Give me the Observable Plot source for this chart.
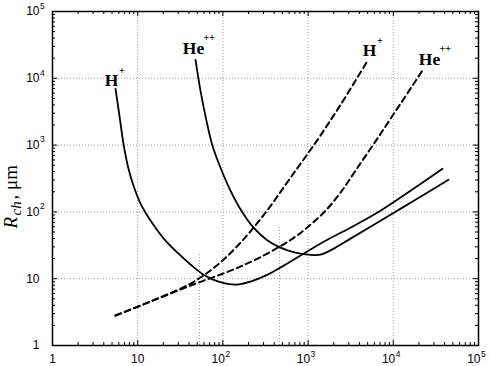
<!DOCTYPE html>
<html><head><meta charset="utf-8">
<script src="https://cdn.jsdelivr.net/npm/d3@7"></script>
<script src="https://cdn.jsdelivr.net/npm/@observablehq/plot@0.6"></script>
<style>body{margin:0;background:#fff}#chart svg{display:block}</style>
</head><body><div id="chart"></div>
<script>
// H+ solid curve (R_ch)
const hSolidX = [5.49, 6.11, 6.81, 7.80, 8.93, 10.8, 13.0, 16.2, 21.2, 29.3, 41.7, 59.2, 88.8, 144, 211, 316, 474, 883, 1600, 3146, 7076, 15920, 37800];
const hSolidY = [6945, 2742, 1046, 442, 246, 133, 87.7, 58.0, 37.1, 24.5, 16.3, 11.5, 9.05, 8.16, 9.05, 11.1, 14.7, 23.7, 37.1, 58.0, 104, 207, 442];
// He++ solid curve
const heSolidX = [47.7, 54.6, 64.2, 75.5, 93.7, 123, 165, 229, 325, 474, 711, 1011, 1398, 2097, 3146, 7076, 18220, 44450];
const heSolidY = [18840, 6481, 2308, 976, 458, 207, 104, 58.0, 38.4, 29.2, 24.5, 22.9, 22.9, 29.2, 39.8, 73.9, 152, 303];
// H+ dashed curve
const hDashX = [5.49, 14.1, 41.7, 81.9, 161, 316, 621, 1289, 2400, 4980];
const hDashY = [2.81, 4.55, 8.45, 15.2, 34.6, 97.3, 324, 1200, 4003, 18200];
// He++ dashed curve
const heDashX = [5.49, 14.1, 41.7, 123, 241, 462, 711, 1067, 1600, 2400, 3600, 5700, 9271, 22620];
const heDashY = [2.81, 4.55, 7.89, 13.2, 19.3, 30.2, 42.6, 64.4, 104, 194, 413, 976, 2473, 13820];
// vertical dotted markers
const markerX = [53.1, 462];
const markerTop = [23.7, 62];
// curve labels
const labelBase = ["H", "He", "H", "He"];
const labelSup = ["+", "++", "+", "++"];
const labelX = [4.93, 45.2, 5257, 26600];
const labelY = [7700, 23170, 21620, 15860];
// axis ticks
const majorTicks = [1, 10, 100, 1000, 10000, 100000];
const gridTicks = [10, 100, 1000, 10000];
const tickBase = ["1", "10", "10", "10", "10", "10"];
const tickExp = ["", "", "2", "3", "4", "5"];

const toRows = (X, Y) => X.map((x, i) => ({x, y: Y[i]}));
const minorTicks = [];
for (let k = 0; k < 5; k++) for (let m = 2; m <= 9; m++) minorTicks.push(m * 10 ** k);
const ticks = majorTicks.map((v, i) => ({v, base: tickBase[i], exp: tickExp[i]}));
const plainTicks = ticks.filter(d => !d.exp);
const expTicks = ticks.filter(d => d.exp);
const labels = labelBase.map((b, i) => ({b, s: labelSup[i], x: labelX[i], y: labelY[i]}));
const markers = markerX.map((x, i) => ({x, top: markerTop[i]}));

const gridStyle = {stroke: "#9a9a9a", strokeWidth: 1, strokeDasharray: "1,2"};
const tickFont = "Liberation Sans, Arial, sans-serif";
const serif = "Liberation Serif, Times New Roman, serif";
const labFont = {fontFamily: serif, fontWeight: "bold", fill: "black", lineAnchor: "bottom"};
const tf = {fontFamily: tickFont, fill: "black"};

const chart = Plot.plot({
  width: 490, height: 366,
  marginLeft: 52, marginRight: 12, marginTop: 11, marginBottom: 21,
  x: {type: "log", domain: [1, 1e5], axis: null},
  y: {type: "log", domain: [1, 1e5], axis: null},
  style: {background: "white"},
  marks: [
    Plot.ruleX(gridTicks, gridStyle),
    Plot.ruleY(gridTicks, gridStyle),
    Plot.ruleX(markers, {x: "x", y1: 1, y2: "top", ...gridStyle}),
    // inward ticks
    Plot.ruleX(majorTicks, {y1: 1, y2: 1, insetBottom: 5, stroke: "black"}),
    Plot.ruleX(minorTicks, {y1: 1, y2: 1, insetBottom: 3, stroke: "black"}),
    Plot.ruleX(majorTicks, {y1: 1e5, y2: 1e5, insetTop: 5, stroke: "black"}),
    Plot.ruleX(minorTicks, {y1: 1e5, y2: 1e5, insetTop: 3, stroke: "black"}),
    Plot.ruleY(majorTicks, {x1: 1, x2: 1, insetRight: -5, stroke: "black"}),
    Plot.ruleY(minorTicks, {x1: 1, x2: 1, insetRight: -3, stroke: "black"}),
    Plot.ruleY(majorTicks, {x1: 1e5, x2: 1e5, insetLeft: -5, stroke: "black"}),
    Plot.ruleY(minorTicks, {x1: 1e5, x2: 1e5, insetLeft: -3, stroke: "black"}),
    // curves
    Plot.line(toRows(hSolidX, hSolidY), {x: "x", y: "y", stroke: "black", strokeWidth: 1.8, curve: "catmull-rom"}),
    Plot.line(toRows(heSolidX, heSolidY), {x: "x", y: "y", stroke: "black", strokeWidth: 1.8, curve: "catmull-rom"}),
    Plot.line(toRows(hDashX, hDashY), {x: "x", y: "y", stroke: "black", strokeWidth: 2, strokeDasharray: "6,4", curve: "catmull-rom"}),
    Plot.line(toRows(heDashX, heDashY), {x: "x", y: "y", stroke: "black", strokeWidth: 2, strokeDasharray: "6,4", curve: "catmull-rom"}),
    Plot.frame({stroke: "black", strokeWidth: 1.5}),
    // curve labels
    Plot.text(labels, {x: "x", y: "y", text: "b", textAnchor: "middle", fontSize: 17.5, ...labFont}),
    Plot.text(labels.filter(d => d.b === "H"), {x: "x", y: "y", text: "s", textAnchor: "start", dx: 7.5, dy: -12, fontSize: 10, ...labFont}),
    Plot.text(labels.filter(d => d.b === "He"), {x: "x", y: "y", text: "s", textAnchor: "start", dx: 10, dy: -13, fontSize: 10, ...labFont}),
    // x tick labels
    Plot.text(plainTicks, {x: "v", y: 1, text: "base", textAnchor: "middle", lineAnchor: "bottom", dy: 17.5, fontSize: 12, ...tf}),
    Plot.text(expTicks, {x: "v", y: 1, text: "base", textAnchor: "end", lineAnchor: "bottom", dx: 2, dy: 17.5, fontSize: 12, ...tf}),
    Plot.text(expTicks, {x: "v", y: 1, text: "exp", textAnchor: "start", lineAnchor: "bottom", dx: 2.5, dy: 11, fontSize: 8.5, ...tf}),
    // y tick labels
    Plot.text(ticks, {y: "v", text: "base", frameAnchor: "left", textAnchor: "end", lineAnchor: "middle", dx: -13, fontSize: 12, ...tf}),
    Plot.text(expTicks, {y: "v", text: "exp", frameAnchor: "left", textAnchor: "start", lineAnchor: "middle", dx: -12.5, dy: -5.5, fontSize: 8.5, ...tf}),
    // y axis label
    Plot.text(["R"], {frameAnchor: "left", rotate: -90, textAnchor: "start", lineAnchor: "bottom", dx: -36, dy: 50, fontFamily: serif, fontStyle: "italic", fontSize: 19, fill: "black"}),
    Plot.text(["ch"], {frameAnchor: "left", rotate: -90, textAnchor: "start", lineAnchor: "bottom", dx: -32, dy: 37, fontFamily: serif, fontStyle: "italic", fontSize: 15, fill: "black"}),
    Plot.text([", \u03bcm"], {frameAnchor: "left", rotate: -90, textAnchor: "start", lineAnchor: "bottom", dx: -36, dy: 21, fontFamily: serif, fontSize: 19, fill: "black"})
  ]
});
document.getElementById("chart").appendChild(chart);
</script>
</body></html>
